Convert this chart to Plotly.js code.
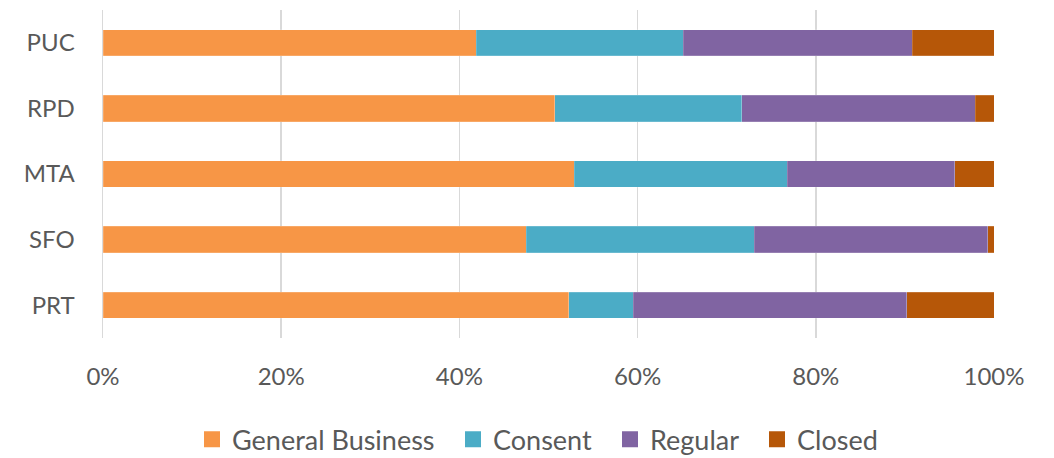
<!DOCTYPE html>
<html>
<head>
<meta charset="utf-8">
<script src="https://cdn.plot.ly/plotly-3.0.1.min.js"></script>
<style>html,body{margin:0;padding:0;background:#fff;}#chart{width:1054px;height:458px;}</style>
</head>
<body>
<div id="chart"></div>
<script>
const categories = ["PRT", "SFO", "MTA", "RPD", "PUC"];
const generalBusiness = [52.3, 47.5, 52.9, 50.7, 41.9];
const consent = [7.2, 25.6, 23.9, 21.0, 23.2];
const regular = [30.7, 26.2, 18.8, 26.2, 25.7];
const closed = [9.8, 0.7, 4.4, 2.1, 9.2];
const seriesNames = ["General Business", "Consent", "Regular", "Closed"];
const seriesColors = ["#F79646", "#4BACC6", "#8064A2", "#B65708"];
const xTickVals = [0, 20, 40, 60, 80, 100];
const xTickText = ["0%", "20%", "40%", "60%", "80%", "100%"];

const legendIds = ["legend", "legend2", "legend3", "legend4"];
const legendLeft = [192, 453, 610, 757];

const allSeries = [generalBusiness, consent, regular, closed];
const traces = allSeries.map((vals, i) => ({
  type: "bar",
  orientation: "h",
  name: seriesNames[i],
  legendgroup: seriesNames[i],
  showlegend: false,
  y: categories,
  x: vals,
  marker: { color: seriesColors[i], line: { color: "rgba(255,255,255,0.35)", width: 0.5 } },
  hoverinfo: "x+y+name"
}));
// legend-only entries with larger square swatches
seriesNames.forEach((nm, i) => {
  traces.push({
    type: "scatter",
    mode: "markers",
    name: nm,
    legendgroup: nm,
    legend: legendIds[i],
    showlegend: true,
    x: [null],
    y: [null],
    marker: { symbol: "square", size: 17, color: seriesColors[i] },
    hoverinfo: "skip"
  });
});

const layout = {
  width: 1054,
  height: 458,
  barmode: "stack",
  bargap: 0.6,
  margin: { l: 103, r: 60, t: 10, b: 120, autoexpand: false },
  paper_bgcolor: "#fff",
  plot_bgcolor: "#fff",
  font: { family: "Lato, Open Sans, sans-serif", color: "#595959", size: 24 },
  xaxis: {
    range: [0, 100],
    tickvals: xTickVals,
    ticktext: xTickText,
    showgrid: true,
    gridcolor: "#d9d9d9",
    gridwidth: 1.5,
    zeroline: false,
    showline: false,
    ticks: "",
    automargin: false,
    ticklabelstandoff: 22,
    tickfont: { size: 24, color: "#595959" },
    fixedrange: true
  },
  yaxis: {
    type: "category",
    categoryorder: "array",
    categoryarray: categories,
    showline: true,
    linecolor: "#d9d9d9",
    linewidth: 1.5,
    showgrid: false,
    ticks: "",
    automargin: false,
    ticklabelstandoff: 22,
    tickfont: { size: 24, color: "#595959" },
    fixedrange: true
  },
  showlegend: true
};
legendIds.forEach((id, i) => {
  layout[id] = {
    orientation: "h",
    x: legendLeft[i] / 1054,
    xanchor: "left",
    xref: "container",
    yref: "container",
    y: 0.04,
    yanchor: "middle",
    font: { size: 27, color: "#595959" },
    itemsizing: "trace",
    itemwidth: 30,
    bgcolor: "rgba(0,0,0,0)"
  };
});

Plotly.newPlot("chart", traces, layout, { displayModeBar: false, staticPlot: true });
</script>
</body>
</html>
